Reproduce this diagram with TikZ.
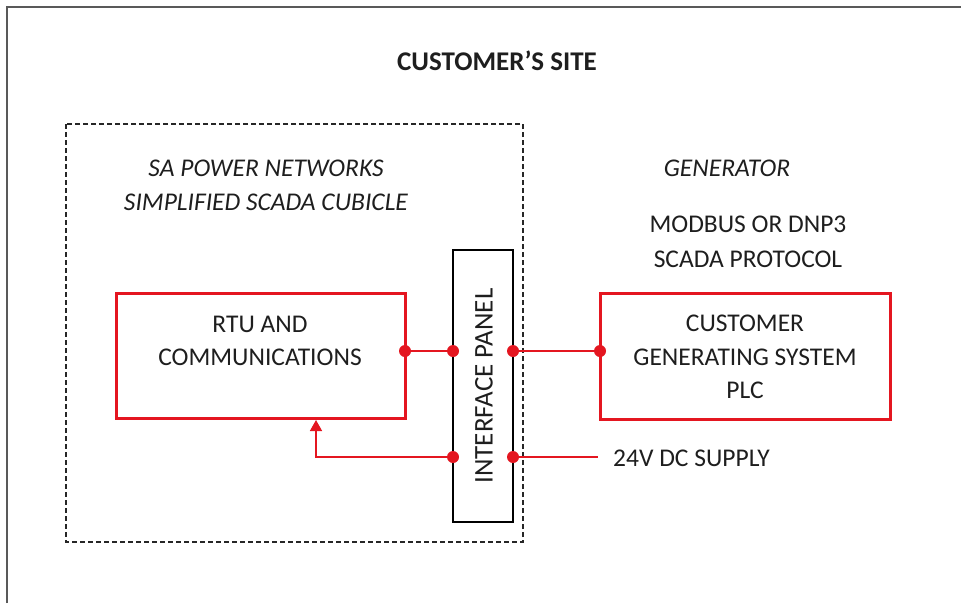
\documentclass[tikz,border=0pt]{standalone}
\usepackage{fontspec}
\setmainfont{Carlito}
\usetikzlibrary{arrows.meta}
\definecolor{sared}{RGB}{228,22,32}
\definecolor{txt}{RGB}{30,30,30}
\tikzset{
  redbox/.style={draw=sared, line width=3pt, fill=white},
  wire/.style={draw=sared, line width=1.5pt},
  dot/.style={circle, fill=sared, inner sep=0pt, minimum size=12pt},
  lbl/.style={text=txt, font=\fontsize{25.5}{33.5}\selectfont, align=center, inner sep=0pt},
  ilbl/.style={lbl, font=\fontsize{25.5}{33.5}\selectfont\itshape},
}
\begin{document}
\begin{tikzpicture}[x=1pt,y=-1pt]
\useasboundingbox (0,0) rectangle (961,603);
\fill[white] (0,0) rectangle (961,603);
% outer frame
\draw[gray!70!black, line width=1.8pt] (7,603) -- (7,7) -- (961,7);
% title
\node[lbl, font=\fontsize{27}{33}\selectfont\bfseries] (title) at (497,61) {CUSTOMER’S SITE};
% dashed cubicle
\draw[black!85, line width=1.4pt, dash pattern=on 5pt off 3pt] (66,124) rectangle (523,542);
\node[ilbl] (sa1) at (266,168) {SA POWER NETWORKS};
\node[ilbl] (sa2) at (266,202) {SIMPLIFIED SCADA CUBICLE};
% generator labels
\node[ilbl] (gen) at (727,168) {GENERATOR};
\node[lbl] (mod1) at (748,224) {MODBUS OR DNP3};
\node[lbl] (mod2) at (748,259) {SCADA PROTOCOL};
% boxes
\draw[redbox] (116,293) rectangle (405,418);
\node[lbl] (rtu) at (260,341) {RTU AND\\COMMUNICATIONS};
\draw[redbox] (600,293) rectangle (890,419);
\node[lbl] (cgs) at (745,357) {CUSTOMER\\GENERATING SYSTEM\\PLC};
% interface panel
\draw[black, line width=1.5pt, fill=white] (453,250) rectangle (513,522);
\node[lbl, rotate=90, font=\fontsize{27}{33}\selectfont] (ip) at (484,386) {INTERFACE PANEL};
% dots
\node[dot] (d1) at (405,351) {};
\node[dot] (d2) at (453,351) {};
\node[dot] (d3) at (513,351) {};
\node[dot] (d4) at (600,351) {};
\node[dot] (d5) at (453,457) {};
\node[dot] (d6) at (513,457) {};
\coordinate (sup) at (598,457);
\coordinate (arr) at (316,420);
\node[lbl, anchor=west] (dc) at (613,458) {24V DC SUPPLY};
% wires
\draw[wire] (d1.center) -- (d2.center);
\draw[wire] (d3.center) -- (d4.center);
\draw[wire] (d6.center) -- (sup);
\draw[wire, -{Triangle[length=11pt,width=12pt]}] (d5.center) -| (arr);
\end{tikzpicture}
\end{document}
